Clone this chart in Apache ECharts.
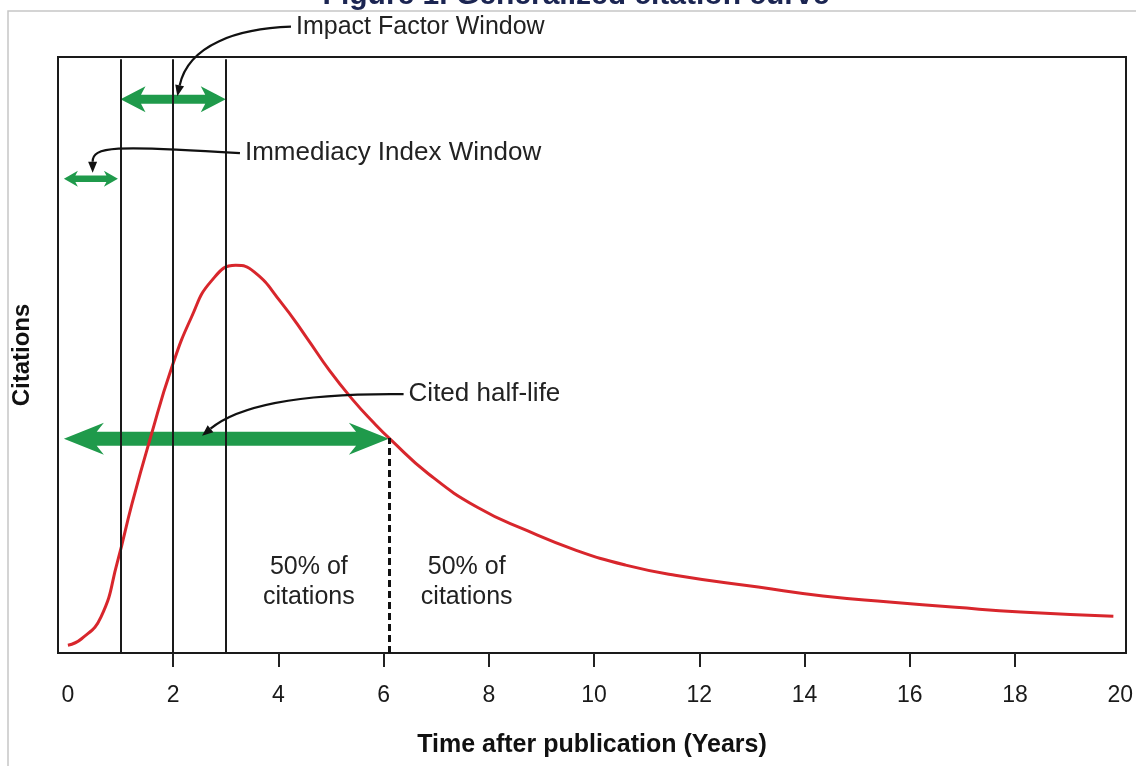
<!DOCTYPE html>
<html>
<head>
<meta charset="utf-8">
<script src="https://cdn.jsdelivr.net/npm/echarts@6/dist/echarts.min.js"></script>
<style>html,body{margin:0;padding:0;background:#fff}#c{width:1136px;height:766px}</style>
</head>
<body>
<div id="c"></div>
<script>
// ---- data ----
const years = [0, 0.26, 0.63, 0.94, 1.22, 1.57, 1.97, 2.35, 2.72, 3.19, 3.54, 4.04, 4.54, 4.97, 5.42, 5.79, 6.14, 6.85, 7.79, 8.73, 9.66, 10.6, 11.54, 13.12, 14.35, 15.61, 16.87, 18.11, 19.87];
const citations = [1.3, 2.4, 6.1, 15.3, 25.2, 36.3, 48.0, 56.6, 62.6, 65.3, 64.2, 59.2, 53.1, 47.6, 42.6, 39.0, 35.9, 30.2, 24.5, 20.6, 17.3, 14.8, 13.1, 11.1, 9.6, 8.6, 7.7, 6.9, 6.2];
const xTickLabels = [0, 2, 4, 6, 8, 10, 12, 14, 16, 18, 20];
const xTickMarks = [2, 4, 6, 8, 10, 12, 14, 16, 18];
const windowYears = [1, 2, 3];
const halfLifeYear = [6.1];
const halfLifeCitations = [36.2];
// spans: [fromYear, toYear, level]
const impactSpan = [1, 3, 93.3];
const immediacySpan = [0, 0.95, 79.9];
const halfLifeSpan = [0, 6.1, 36.1];
const titleText = 'Figure 1. Generalized citation curve';
const xName = 'Time after publication (Years)';
const yName = 'Citations';
// callouts: label + bezier points in data units (start, control1, control2, tip)
const calloutLabels = ['Impact Factor Window', 'Immediacy Index Window', 'Cited half-life'];
const calloutPoints = [
  [[4.24, 105.5], [3.23, 105.2], [2.29, 102.5], [2.08, 93.8]],
  [[3.27, 84.2], [0.85, 85.6], [0.47, 85.3], [0.47, 80.9]],
  [[6.38, 43.6], [4.36, 43.8], [3.23, 41.6], [2.55, 36.6]]
];
const shareLabels = ['50% of\ncitations', '50% of\ncitations'];
const shareAnchors = [[4.58, 11.9], [7.58, 11.9]];

// ---- styles ----
const FONT = '"Liberation Sans", Arial, Helvetica, sans-serif';
const GREEN = '#1f9a4b';
const arrowStyles = [
  { L: 25, H: 13, s: 4.5 },
  { L: 14, H: 8, s: 3.2 },
  { L: 40, H: 16, s: 7 }
];
const calloutFont = [25, 26, 26];

const chart = echarts.init(document.getElementById('c'), null, { renderer: 'canvas' });

const option = {
  backgroundColor: '#fff',
  animation: false,
  title: {
    text: titleText, left: 576, textAlign: 'center', top: -19, padding: 0,
    textStyle: { fontFamily: FONT, fontSize: 30, fontWeight: 'bold', color: '#1b2552' }
  },
  graphic: [{
    type: 'rect', silent: true, z: -10,
    shape: { x: 8, y: 11, width: 1200, height: 900 },
    style: { fill: null, stroke: '#c6c6c6', lineWidth: 1.5 }
  }],
  grid: [
    { left: 67.9, right: 2, top: -2.6, bottom: 113, containLabel: false },
    { left: 58, right: 10, top: 57, bottom: 113, show: true, borderColor: '#1a1a1a', borderWidth: 2, backgroundColor: 'transparent', containLabel: false }
  ],
  xAxis: [
    {
      type: 'value', gridIndex: 0, min: 0, max: 20, interval: 2,
      axisLine: { show: false }, splitLine: { show: false },
      axisTick: { show: true, inside: false, length: 14, customValues: xTickMarks, lineStyle: { color: '#222', width: 2 } },
      axisLabel: { show: true, customValues: xTickLabels, margin: 31, fontSize: 23, color: '#1a1a1a', fontFamily: FONT, showMaxLabel: true, showMinLabel: true }
    },
    {
      type: 'value', gridIndex: 1, min: 0, max: 1,
      axisLine: { show: false }, axisTick: { show: false }, axisLabel: { show: false }, splitLine: { show: false },
      name: xName, nameLocation: 'middle', nameGap: 80,
      nameTextStyle: { fontFamily: FONT, fontSize: 25, fontWeight: 'bold', color: '#111' }
    }
  ],
  yAxis: [
    {
      type: 'value', gridIndex: 0, min: 0, max: 110,
      axisLine: { show: false }, axisTick: { show: false }, axisLabel: { show: false }, splitLine: { show: false }
    },
    {
      type: 'value', gridIndex: 1, min: 0, max: 1,
      axisLine: { show: false }, axisTick: { show: false }, axisLabel: { show: false }, splitLine: { show: false },
      name: yName, nameLocation: 'middle', nameGap: 24, nameRotate: 90,
      nameTextStyle: { fontFamily: FONT, fontSize: 24, fontWeight: 'bold', color: '#111' }
    }
  ],
  series: [
    {
      name: 'windows', type: 'custom', xAxisIndex: 0, yAxisIndex: 0, z: 2, silent: true,
      data: [impactSpan, immediacySpan, halfLifeSpan],
      encode: { x: [0, 1], y: 2 },
      renderItem: function (params, api) {
        const a = api.coord([api.value(0), api.value(2)]);
        const b = api.coord([api.value(1), api.value(2)]);
        const st = arrowStyles[params.dataIndex];
        const x1 = a[0] - (params.dataIndex ? 4 : 0), x2 = b[0], cy = a[1], L = st.L, H = st.H, s = st.s, n = L * 0.82;
        const pts = [
          [x1, cy], [x1 + L, cy - H], [x1 + n, cy - s], [x2 - n, cy - s], [x2 - L, cy - H],
          [x2, cy], [x2 - L, cy + H], [x2 - n, cy + s], [x1 + n, cy + s], [x1 + L, cy + H]
        ];
        return { type: 'polygon', shape: { points: pts }, style: { fill: GREEN } };
      }
    },
    {
      name: 'Citations', type: 'line', xAxisIndex: 0, yAxisIndex: 0, z: 3,
      data: years.map((x, i) => [x, citations[i]]),
      smooth: 0.5, symbol: 'none', clip: false,
      lineStyle: { color: '#d8262c', width: 3 }
    },
    {
      name: 'lines', type: 'line', xAxisIndex: 0, yAxisIndex: 0, z: 4, data: [],
      markLine: {
        silent: true, symbol: ['none', 'none'], animation: false,
        label: { show: false },
        emphasis: { disabled: true },
        data: windowYears.map(x => [
          { coord: [x, 0], lineStyle: { color: '#1a1a1a', width: 2, type: 'solid' } },
          { coord: [x, 100] }
        ]).concat([[
          { coord: [halfLifeYear[0], 0], lineStyle: { color: '#111', width: 3, type: [7, 4] } },
          { coord: [halfLifeYear[0], halfLifeCitations[0]] }
        ]])
      }
    },
    {
      name: 'callouts', type: 'custom', xAxisIndex: 0, yAxisIndex: 0, z: 5, silent: true,
      data: calloutPoints.map(p => [p[0][0], p[0][1]]),
      encode: { x: 0, y: 1 },
      renderItem: function (params, api) {
        const i = params.dataIndex;
        const p = calloutPoints[i].map(q => api.coord(q));
        const p0 = p[0], p1 = p[1], p2 = p[2], p3 = p[3];
        const dx = p3[0] - p2[0], dy = p3[1] - p2[1];
        const len = Math.hypot(dx, dy) || 1;
        const ux = dx / len, uy = dy / len, L = 11, W = 4.5;
        const base = [p3[0] - ux * L, p3[1] - uy * L];
        const tri = [p3, [base[0] - uy * W, base[1] + ux * W], [base[0] + uy * W, base[1] - ux * W]];
        return {
          type: 'group', children: [
            { type: 'bezierCurve', shape: { x1: p0[0], y1: p0[1], cpx1: p1[0], cpy1: p1[1], cpx2: p2[0], cpy2: p2[1], x2: base[0], y2: base[1] }, style: { stroke: '#111', lineWidth: 2.2, fill: null } },
            { type: 'polygon', shape: { points: tri }, style: { fill: '#111' } },
            { type: 'text', x: p0[0] + 5, y: p0[1], style: { text: calloutLabels[i], fill: '#222', font: calloutFont[i] + 'px ' + FONT, verticalAlign: 'middle', align: 'left' } }
          ]
        };
      }
    },
    {
      name: 'shares', type: 'custom', xAxisIndex: 0, yAxisIndex: 0, z: 5, silent: true,
      data: shareAnchors,
      encode: { x: 0, y: 1 },
      renderItem: function (params, api) {
        const c = api.coord([api.value(0), api.value(1)]);
        return { type: 'text', x: c[0], y: c[1], style: { text: shareLabels[params.dataIndex], fill: '#222', font: '25px ' + FONT, lineHeight: 30, align: 'center', verticalAlign: 'middle' } };
      }
    }
  ]
};
chart.setOption(option);
</script>
</body>
</html>
